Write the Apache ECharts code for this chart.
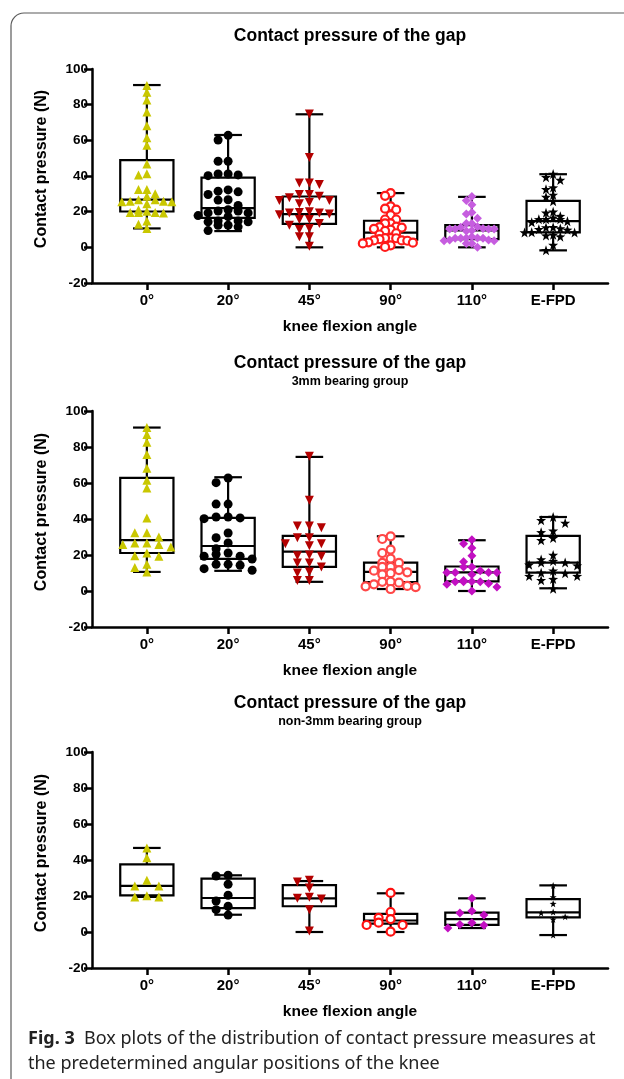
<!DOCTYPE html>
<html>
<head>
<meta charset="utf-8">
<script src="https://cdn.jsdelivr.net/npm/echarts@6/dist/echarts.min.js"></script>
<style>
html,body{margin:0;padding:0;background:#fff;}
#chart{width:624px;height:1079px;}
</style>
</head>
<body>
<div id="chart"></div>
<script>
// ---------- categories ----------
const categories = ['0°', '20°', '45°', '90°', '110°', 'E-FPD'];
const yTicks = [-20, 0, 20, 40, 60, 80, 100];

// ---------- 3mm bearing group: individual values (N) ----------
const g3_0   = [90.8, 86.9, 82.6, 75.9, 68.2, 61.5, 57.2, 40.6, 32.4, 32.4, 30, 25.9, 25.9, 26.7, 26.7, 24.4, 19.6, 21.1, 19.3, 14.8, 13, 10.6];
const g3_20  = [62.8, 60.2, 48.3, 48.3, 41.1, 40.2, 40.6, 41.1, 32.2, 29.6, 26.7, 23.5, 19.3, 19.3, 21.1, 20.4, 17.8, 14.8, 14.8, 14.3, 11.5, 12.4];
const g3_45  = [74.8, 50.4, 36.1, 36.1, 35.2, 29.6, 29.6, 26.3, 25.2, 26.3, 19.3, 15.6, 20, 19.6, 15.6, 13.4, 10.6, 10, 5.9, 5.9];
const g3_90  = [30.4, 28.9, 23, 21.1, 18, 15.6, 15.6, 13.4, 13.4, 9.9, 11.3, 11.6, 9.2, 10.4, 5.2, 3.7, 5.1, 4.6, 2.2, 2.6, 2.8, 1.1];
const g3_110 = [28.5, 26.3, 23.9, 19.6, 16.3, 13.4, 13.4, 10.3, 10.3, 11.3, 10.3, 10.3, 9.1, 5.3, 3.7, 5.1, 5.1, 5.9, 4.1, 5.1, 2.2, 0];
const g3_efpd= [41.1, 39.3, 37.8, 32.6, 33.5, 29.4, 28.2, 20, 15.8, 15.8, 16.6, 17.5, 14.1, 14.6, 9.8, 10.2, 11.3, 8.3, 8.3, 6.6, 6, 1.3];

// ---------- non-3mm bearing group: individual values (N) ----------
const gn_0   = [46.7, 41.3, 28.7, 25.6, 25.6, 20.2, 19.5, 19.5];
const gn_20  = [31.1, 31.5, 26.5, 20.4, 17.2, 14.3, 12.4, 9.4];
const gn_45  = [27.8, 28.7, 24.5, 18.7, 19.3, 18.3, 12.4, 0.6];
const gn_90  = [21.7, 11.1, 7.9, 7.2, 5.2, 3.9, 3.9, 0.2];
const gn_110 = [18.7, 9.4, 11.6, 10.6, 5.2, 3.7, 4.1, 2.2];
const gn_efpd= [25.9, 19.4, 15.7, 10.6, 11.1, 8.5, 7, -1.7];

// ---------- box statistics [min, Q1, median, Q3, max] ----------
const boxAll = [
  [10.6, 20.1, 26.7, 48.9, 91.0],
  [9.1, 16.5, 22.0, 39.1, 63.0],
  [0.0, 13.2, 18.6, 28.5, 74.6],
  [0.0, 4.3, 8.2, 14.9, 30.4],
  [0.0, 4.6, 9.5, 12.5, 28.3],
  [-1.7, 8.4, 14.7, 26.1, 41.0]
];
const box3mm = [
  [10.6, 21.1, 28.3, 62.8, 90.8],
  [11.2, 17.8, 25.0, 40.6, 63.2],
  [5.1, 13.4, 21.9, 30.6, 74.5],
  [1.1, 5.0, 10.6, 15.8, 30.4],
  [0.0, 5.3, 10.3, 13.6, 28.2],
  [1.5, 10.2, 15.8, 30.6, 41.1]
];
const boxNon3mm = [
  [19.5, 20.4, 25.6, 37.6, 46.7],
  [9.6, 13.3, 18.9, 29.6, 31.5],
  [0.0, 14.3, 18.7, 26.0, 28.3],
  [0.0, 4.6, 6.4, 10.1, 21.5],
  [2.2, 4.0, 7.1, 10.8, 18.7],
  [-1.7, 8.1, 10.9, 18.3, 25.9]
];

// ---------- build ----------
const g3 = [g3_0, g3_20, g3_45, g3_90, g3_110, g3_efpd];
const gn = [gn_0, gn_20, gn_45, gn_90, gn_110, gn_efpd];
const gAll = g3.map((a, i) => a.concat(gn[i]));

const PX_PER_X = 81.2, PX_PER_Y = 1.79;
const BOX_W = 0.655, CAP_W = 0.34;
const XMIN = -0.675, XMAX = 5.675;

const STAR = 'path://M0,-10L2.35,-3.24L9.51,-3.09L3.8,1.24L5.88,8.09L0,4L-5.88,8.09L-3.8,1.24L-9.51,-3.09L-2.35,-3.24Z';
const DIAM = 'path://M0,-10L10,0L0,10L-10,0Z';

function marks(panel) {
  const c110 = panel === 0 ? '#c65ddf' : '#c20fc2';
  const c90 = panel === 0 ? '#ff1a1a' : (panel === 1 ? '#ff4747' : '#ff1010');
  const starSize = panel === 2 ? 7 : 10;
  return [
    {symbol: 'triangle', size: 9, rot: 0, color: '#c9c700', border: null},
    {symbol: 'circle', size: 9, rot: 0, color: '#000', border: null},
    {symbol: 'triangle', size: 9, rot: 180, color: '#b30000', border: null},
    {symbol: 'circle', size: 8, rot: 0, color: '#fff', border: c90},
    {symbol: DIAM, size: 9, rot: 0, color: c110, border: null},
    {symbol: STAR, size: starSize, rot: 0, color: '#000', border: null}
  ];
}

// column-scatter layout: values falling in the same vertical band are spread sideways
function swarm(values, xi) {
  const binH = 6 / PX_PER_Y;
  const sorted = values.slice().sort((a, b) => b - a);
  const bins = [];
  let cur = null;
  for (const v of sorted) {
    if (cur && cur.start - v < binH) cur.vals.push(v);
    else { cur = {start: v, vals: [v]}; bins.push(cur); }
  }
  const nMax = Math.max(...bins.map(b => b.vals.length));
  const step = nMax > 1 ? Math.min(12, 50 / (nMax - 1)) : 12;
  const out = [];
  bins.forEach(b => {
    b.vals.forEach((v, k) => {
      const off = k === 0 ? 0 : (k % 2 ? -Math.ceil(k / 2) : k / 2);
      out.push([xi + off * step / PX_PER_X, v]);
    });
  });
  return out;
}

const grids = [
  {left: 92, right: 16, top: 69, height: 214},
  {left: 92, right: 16, top: 411, height: 216},
  {left: 92, right: 16, top: 752, height: 216}
];
const titles = [
  {t: 'Contact pressure of the gap', s: null},
  {t: 'Contact pressure of the gap', s: '3mm bearing group'},
  {t: 'Contact pressure of the gap', s: 'non-3mm bearing group'}
];
const boxes = [boxAll, box3mm, boxNon3mm];
const points = [gAll, g3, gn];

const FONT = '"Liberation Sans", Arial, sans-serif';
const xAxes = [], yAxes = [], series = [], graphics = [];

grids.forEach((g, p) => {
  xAxes.push({
    gridIndex: p, type: 'value', min: XMIN, max: XMAX,
    axisLine: {show: true, onZero: false, lineStyle: {color: '#000', width: 2.5}},
    axisTick: {show: true, customValues: [0, 1, 2, 3, 4, 5], length: 7, lineStyle: {color: '#000', width: 2.5}},
    axisLabel: {customValues: [0, 1, 2, 3, 4, 5], formatter: v => categories[Math.round(v)],
      color: '#000', fontFamily: FONT, fontWeight: 'bold', fontSize: 15, margin: 10},
    splitLine: {show: false},
    name: 'knee flexion angle', nameLocation: 'middle', nameGap: 36,
    nameTextStyle: {color: '#000', fontFamily: FONT, fontWeight: 'bold', fontSize: 15.5}
  });
  yAxes.push({
    gridIndex: p, type: 'value', min: -20, max: 100, interval: 20,
    axisLine: {show: true, onZero: false, lineStyle: {color: '#000', width: 2.5}},
    axisTick: {show: true, length: 8, lineStyle: {color: '#000', width: 2.5}},
    axisLabel: {color: '#000', fontFamily: FONT, fontWeight: 'bold', fontSize: 13.5, margin: 4},
    splitLine: {show: false}
  });
  series.push({
    type: 'custom', xAxisIndex: p, yAxisIndex: p, z: 2,
    data: boxes[p].map((b, i) => [i].concat(b)),
    encode: {x: 0, y: [1, 2, 3, 4, 5]},
    renderItem: function (params, api) {
      const i = api.value(0);
      const mn = api.value(1), q1 = api.value(2), md = api.value(3), q3 = api.value(4), mx = api.value(5);
      const hw = BOX_W / 2, cw = CAP_W / 2;
      const tl = api.coord([i - hw, q3]), br = api.coord([i + hw, q1]);
      const mL = api.coord([i - hw, md]), mR = api.coord([i + hw, md]);
      const top = api.coord([i, mx]), bot = api.coord([i, mn]);
      const q3c = api.coord([i, q3]), q1c = api.coord([i, q1]);
      const capTL = api.coord([i - cw, mx]), capTR = api.coord([i + cw, mx]);
      const capBL = api.coord([i - cw, mn]), capBR = api.coord([i + cw, mn]);
      const st = {stroke: '#000', lineWidth: 2.2, fill: null};
      return {type: 'group', children: [
        {type: 'line', shape: {x1: top[0], y1: top[1], x2: q3c[0], y2: q3c[1]}, style: st},
        {type: 'line', shape: {x1: q1c[0], y1: q1c[1], x2: bot[0], y2: bot[1]}, style: st},
        {type: 'line', shape: {x1: capTL[0], y1: capTL[1], x2: capTR[0], y2: capTR[1]}, style: st},
        {type: 'line', shape: {x1: capBL[0], y1: capBL[1], x2: capBR[0], y2: capBR[1]}, style: st},
        {type: 'rect', shape: {x: tl[0], y: tl[1], width: br[0] - tl[0], height: br[1] - tl[1]}, style: {stroke: '#000', lineWidth: 2.2, fill: 'rgba(0,0,0,0)'}},
        {type: 'line', shape: {x1: mL[0], y1: mL[1], x2: mR[0], y2: mR[1]}, style: st}
      ]};
    }
  });
  const mk = marks(p);
  points[p].forEach((vals, i) => {
    const m = mk[i];
    series.push({
      type: 'scatter', xAxisIndex: p, yAxisIndex: p, z: 5,
      symbol: m.symbol, symbolSize: m.size, symbolRotate: m.rot,
      itemStyle: m.border ? {color: m.color, borderColor: m.border, borderWidth: 2.2, opacity: 1} : {color: m.color, opacity: 1},
      data: swarm(vals, i),
      silent: true
    });
  });
  graphics.push({
    type: 'text', x: 42, y: g.top + g.height / 2 - 7, rotation: Math.PI / 2,
    style: {text: 'Contact pressure (N)', fill: '#000', font: 'bold 16px ' + FONT, textAlign: 'center', textVerticalAlign: 'middle'}
  });
  const titleY = [36, 363, 703][p];
  graphics.push({
    type: 'text', x: 350, y: titleY,
    style: {text: titles[p].t, fill: '#000', font: 'bold 17.5px ' + FONT, textAlign: 'center', textVerticalAlign: 'middle'}
  });
  if (titles[p].s) {
    graphics.push({
      type: 'text', x: 350, y: titleY + 19,
      style: {text: titles[p].s, fill: '#000', font: 'bold 12.5px ' + FONT, textAlign: 'center', textVerticalAlign: 'middle'}
    });
  }
});

// frame
graphics.push({type: 'line', shape: {x1: 11, y1: 1079, x2: 11, y2: 26}, style: {stroke: '#5a5a5a', lineWidth: 1.2}});
graphics.push({type: 'line', shape: {x1: 24, y1: 13, x2: 624, y2: 13}, style: {stroke: '#5a5a5a', lineWidth: 1.2}});
graphics.push({type: 'arc', shape: {cx: 24, cy: 26, r: 13, startAngle: Math.PI, endAngle: Math.PI * 1.5}, style: {stroke: '#5a5a5a', lineWidth: 1.2, fill: null}});
// caption
graphics.push({
  type: 'text', x: 28, y: 1039,
  style: {
    text: '{b|Fig. 3}  Box plots of the distribution of contact pressure measures at',
    rich: {b: {fontFamily: '"Noto Sans", sans-serif', fontWeight: 'bold', fontSize: 18, fill: '#222'}},
    font: '18px "Noto Sans", sans-serif', fill: '#222', textVerticalAlign: 'middle'
  }
});
graphics.push({
  type: 'text', x: 28, y: 1064,
  style: {text: 'the predetermined angular positions of the knee', font: '18px "Noto Sans", sans-serif', fill: '#222', textVerticalAlign: 'middle'}
});

const chart = echarts.init(document.getElementById('chart'), null, {renderer: 'canvas'});
chart.setOption({
  backgroundColor: '#fff',
  animation: false,
  grid: grids,
  xAxis: xAxes,
  yAxis: yAxes,
  series: series,
  graphic: graphics
});
</script>
</body>
</html>
